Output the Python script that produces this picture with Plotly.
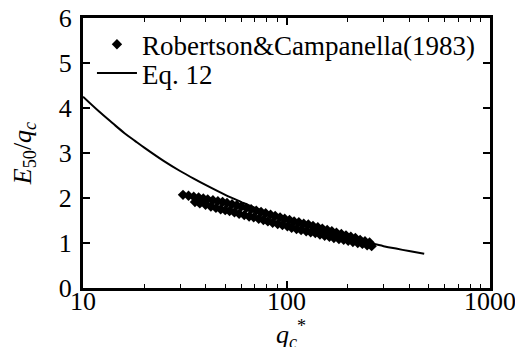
import plotly.graph_objects as go

# Robertson & Campanella (1983) data, band of two rows
rc_x_upper = [31, 33, 35, 37, 39, 41, 43.5, 46, 48.5, 51, 54, 57, 60, 63.5, 67, 71, 75, 79,
              83.5, 88, 93, 98, 103.5, 109, 115, 121.5, 128, 135, 142.5, 150, 158.5, 167,
              176, 186, 196, 207, 218, 230, 243, 256]
rc_y_upper = [2.07, 2.05, 2.03, 2.01, 1.99, 1.97, 1.95, 1.93, 1.91, 1.89, 1.86, 1.84, 1.81,
              1.78, 1.75, 1.72, 1.69, 1.66, 1.63, 1.60, 1.57, 1.54, 1.51, 1.48, 1.46, 1.43,
              1.41, 1.38, 1.35, 1.32, 1.29, 1.26, 1.23, 1.20, 1.17, 1.14, 1.11, 1.07, 1.04, 1.01]
rc_x_lower = [35.5, 37.5, 40, 42.5, 45, 47.5, 50, 52.5, 55.5, 58.5, 62, 65.5, 69, 73, 77, 81,
              85.5, 90.5, 95.5, 101, 106, 112, 118, 125, 131.5, 138.5, 146, 154, 162.5, 171,
              181, 191, 201, 212, 224, 236, 249, 262]
rc_y_lower = [1.91, 1.88, 1.85, 1.81, 1.78, 1.75, 1.73, 1.71, 1.68, 1.65, 1.62, 1.59, 1.57,
              1.54, 1.51, 1.48, 1.45, 1.42, 1.40, 1.37, 1.34, 1.31, 1.29, 1.26, 1.24, 1.22,
              1.19, 1.16, 1.14, 1.11, 1.09, 1.07, 1.05, 1.02, 1.00, 0.98, 0.95, 0.93]

# Eq. 12 curve
eq_x = [10, 12, 14, 16, 18, 20, 25, 30, 35, 40, 50, 60, 70, 80, 100, 120, 150, 200, 250,
        300, 350, 400, 475]
eq_y = [4.25, 3.92, 3.66, 3.44, 3.27, 3.12, 2.82, 2.60, 2.43, 2.29, 2.07, 1.91, 1.78, 1.68,
        1.52, 1.40, 1.27, 1.11, 1.01, 0.93, 0.87, 0.82, 0.76]

x_tickvals = [10, 100, 1000]
x_ticktext = ["10", "100", "1000"]
y_tickvals = [0, 1, 2, 3, 4, 5, 6]

FONT = "Times New Roman, Liberation Serif, DejaVu Serif, serif"
fsize = 26
lsize = 27

fig = go.Figure()
fig.add_trace(go.Scatter(
    x=rc_x_upper + rc_x_lower, y=rc_y_upper + rc_y_lower, mode="markers",
    name="Robertson&Campanella(1983)", legend="legend",
    marker=dict(symbol="diamond", size=8, color="black", line=dict(width=0)),
))
fig.add_trace(go.Scatter(
    x=eq_x, y=eq_y, mode="lines", name="Eq. 12", legend="legend2",
    line=dict(color="black", width=2, shape="spline"),
))

leg_common = dict(xanchor="left", yanchor="top", bgcolor="rgba(0,0,0,0)",
                  font=dict(family=FONT, size=lsize), itemwidth=40)

# page has an 8px body margin, so the figure is drawn 8px smaller and offset
fig.update_layout(
    width=515, height=339,
    margin=dict(l=75, r=33, t=10, b=59, autoexpand=False),
    paper_bgcolor="white", plot_bgcolor="white",
    font=dict(family=FONT, size=fsize, color="black"),
    showlegend=True,
    legend=dict(x=0.022, y=0.992, **leg_common),
    legend2=dict(x=0.022, y=0.885, **leg_common),
    xaxis=dict(
        type="log", range=[1, 3], showgrid=False, zeroline=False,
        showline=True, linecolor="black", linewidth=3, mirror="ticks",
        ticks="inside", ticklen=7, tickwidth=1.5, tickcolor="black",
        tickvals=x_tickvals, ticktext=x_ticktext, automargin=False,
        ticklabelstandoff=-12, ticklabeloverflow="allow",
        minor=dict(ticks="inside", ticklen=4, tickwidth=1.2, tickcolor="black",
                   dtick="D1", showgrid=False),
        tickfont=dict(family=FONT, size=fsize),
    ),
    yaxis=dict(
        range=[0, 6], showgrid=False, zeroline=False,
        showline=True, linecolor="black", linewidth=3, mirror="ticks",
        ticks="inside", ticklen=7, tickwidth=1.5, tickcolor="black",
        tickvals=y_tickvals, automargin=False, ticklabelstandoff=3,
        ticklabeloverflow="allow",
        title=dict(text="<i>E</i><sub>50</sub>/<i>q<sub>c</sub></i>", standoff=24,
                   font=dict(family=FONT, size=fsize)),
        tickfont=dict(family=FONT, size=fsize),
    ),
    annotations=[dict(
        text="<i>q<sub>c</sub></i><sup>*</sup>", xref="paper", yref="paper",
        x=0.51, y=0, xanchor="center", yanchor="top", yshift=-26,
        showarrow=False, font=dict(family=FONT, size=fsize),
    )],
)

fig.write_html("out.html")
